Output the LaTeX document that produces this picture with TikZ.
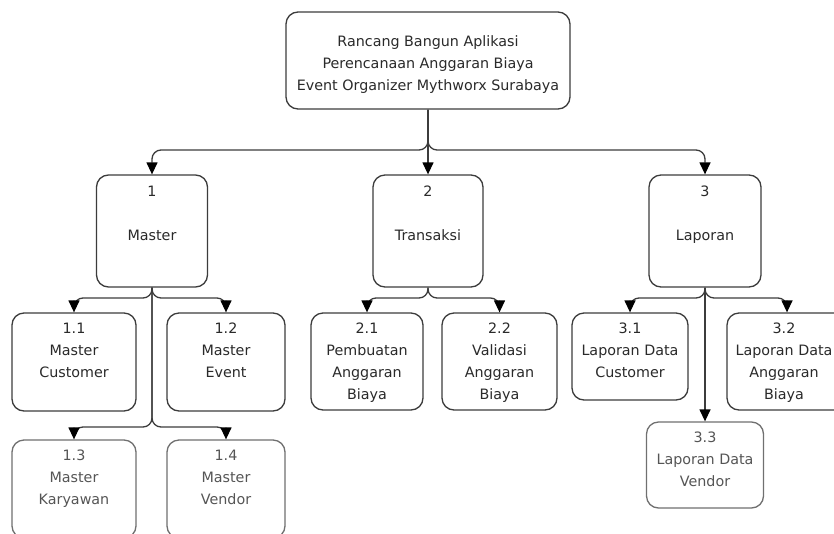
\documentclass[tikz,border=0pt]{standalone}
\usepackage{fontspec}
\setmainfont{DejaVu Sans}
\usetikzlibrary{arrows.meta}
\definecolor{ink}{HTML}{3C3C3C}
\definecolor{inklight}{HTML}{707070}
\definecolor{txt}{HTML}{2A2A2A}
\definecolor{txtlight}{HTML}{555555}
\begin{document}
\begin{tikzpicture}[x=1pt,y=-1pt,
  box/.style={draw=ink, line width=1.3pt, rounded corners=12pt, inner sep=0pt},
  lightbox/.style={box, draw=inklight},
  lbl/.style={anchor=north, inner sep=0pt, align=center, text=txt,
    font=\fontsize{14.3}{22}\selectfont},
  lightlbl/.style={lbl, text=txtlight},
  conn/.style={draw=ink, line width=1.3pt, rounded corners=9pt,
    -{Triangle[width=11pt,length=12pt,color=black]}}]

\fill[white] (0,0) rectangle (834,533);
\clip (0,0) rectangle (834,533);

% root
\node[box, minimum width=284pt, minimum height=97pt] (root) at (428,60.5) {};
\node[lbl] (rootT) at ([yshift=-24pt]root.north)
  {Rancang Bangun Aplikasi\\Perencanaan Anggaran Biaya\\Event Organizer Mythworx Surabaya};

% first level
\node[box, minimum width=111pt, minimum height=112pt] (m1) at (152,231) {};
\node[lbl] (m1T) at ([yshift=-11.6pt]m1.north) {1\\[22pt]Master};
\node[box, minimum width=110pt, minimum height=112pt] (m2) at (428,231) {};
\node[lbl] (m2T) at ([yshift=-11.6pt]m2.north) {2\\[22pt]Transaksi};
\node[box, minimum width=112pt, minimum height=112pt] (m3) at (705,231) {};
\node[lbl] (m3T) at ([yshift=-11.6pt]m3.north) {3\\[22pt]Laporan};

% second level: master
\node[box, minimum width=124pt, minimum height=98pt] (m11) at (74,362) {};
\node[lbl] (m11T) at ([yshift=-10.5pt]m11.north) {1.1\\Master\\Customer};
\node[box, minimum width=118pt, minimum height=98pt] (m12) at (226,362) {};
\node[lbl] (m12T) at ([yshift=-10.5pt]m12.north) {1.2\\Master\\Event};
\node[lightbox, minimum width=124pt, minimum height=98pt] (m13) at (74,489) {};
\node[lightlbl] (m13T) at ([yshift=-10.5pt]m13.north) {1.3\\Master\\Karyawan};
\node[lightbox, minimum width=118pt, minimum height=98pt] (m14) at (226,489) {};
\node[lightlbl] (m14T) at ([yshift=-10.5pt]m14.north) {1.4\\Master\\Vendor};

% second level: transaksi
\node[box, minimum width=112pt, minimum height=97pt] (m21) at (367,361.5) {};
\node[lbl] (m21T) at ([yshift=-10.5pt]m21.north) {2.1\\Pembuatan\\Anggaran\\Biaya};
\node[box, minimum width=115pt, minimum height=97pt] (m22) at (499.5,361.5) {};
\node[lbl] (m22T) at ([yshift=-10.5pt]m22.north) {2.2\\Validasi\\Anggaran\\Biaya};

% second level: laporan
\node[box, minimum width=116pt, minimum height=87pt] (m31) at (630,356.5) {};
\node[lbl] (m31T) at ([yshift=-10.5pt]m31.north) {3.1\\Laporan Data\\Customer};
\node[box, minimum width=120pt, minimum height=97pt] (m32) at (787,361.5) {};
\node[lbl] (m32T) at ([xshift=-3pt,yshift=-10.5pt]m32.north) {3.2\\Laporan Data\\Anggaran\\Biaya};
\node[lightbox, minimum width=117pt, minimum height=86pt] (m33) at (705,465) {};
\node[lightlbl] (m33T) at ([yshift=-10.5pt]m33.north) {3.3\\Laporan Data\\Vendor};

% junction points
\coordinate (j0) at (428,150);
\coordinate (j1) at (152,298);
\coordinate (j1b) at (152,427);
\coordinate (j2) at (428,298);
\coordinate (j3) at (705,298);

% connectors
\draw[conn] (root.south) -- (j0) -| (m1.north);
\draw[conn] (root.south) -- (m2.north);
\draw[conn] (root.south) -- (j0) -| (m3.north);

\draw[conn] (m1.south) -- (j1) -| (m11.north);
\draw[conn] (m1.south) -- (j1) -| (m12.north);
\draw[conn] (m1.south) -- (j1b) -| (m13.north);
\draw[conn] (m1.south) -- (j1b) -| (m14.north);

\draw[conn] (m2.south) -- (j2) -| (m21.north);
\draw[conn] (m2.south) -- (j2) -| (m22.north);

\draw[conn] (m3.south) -- (j3) -| (m31.north);
\draw[conn] (m3.south) -- (j3) -| (m32.north);
\draw[conn] (m3.south) -- (m33.north);
\end{tikzpicture}
\end{document}
